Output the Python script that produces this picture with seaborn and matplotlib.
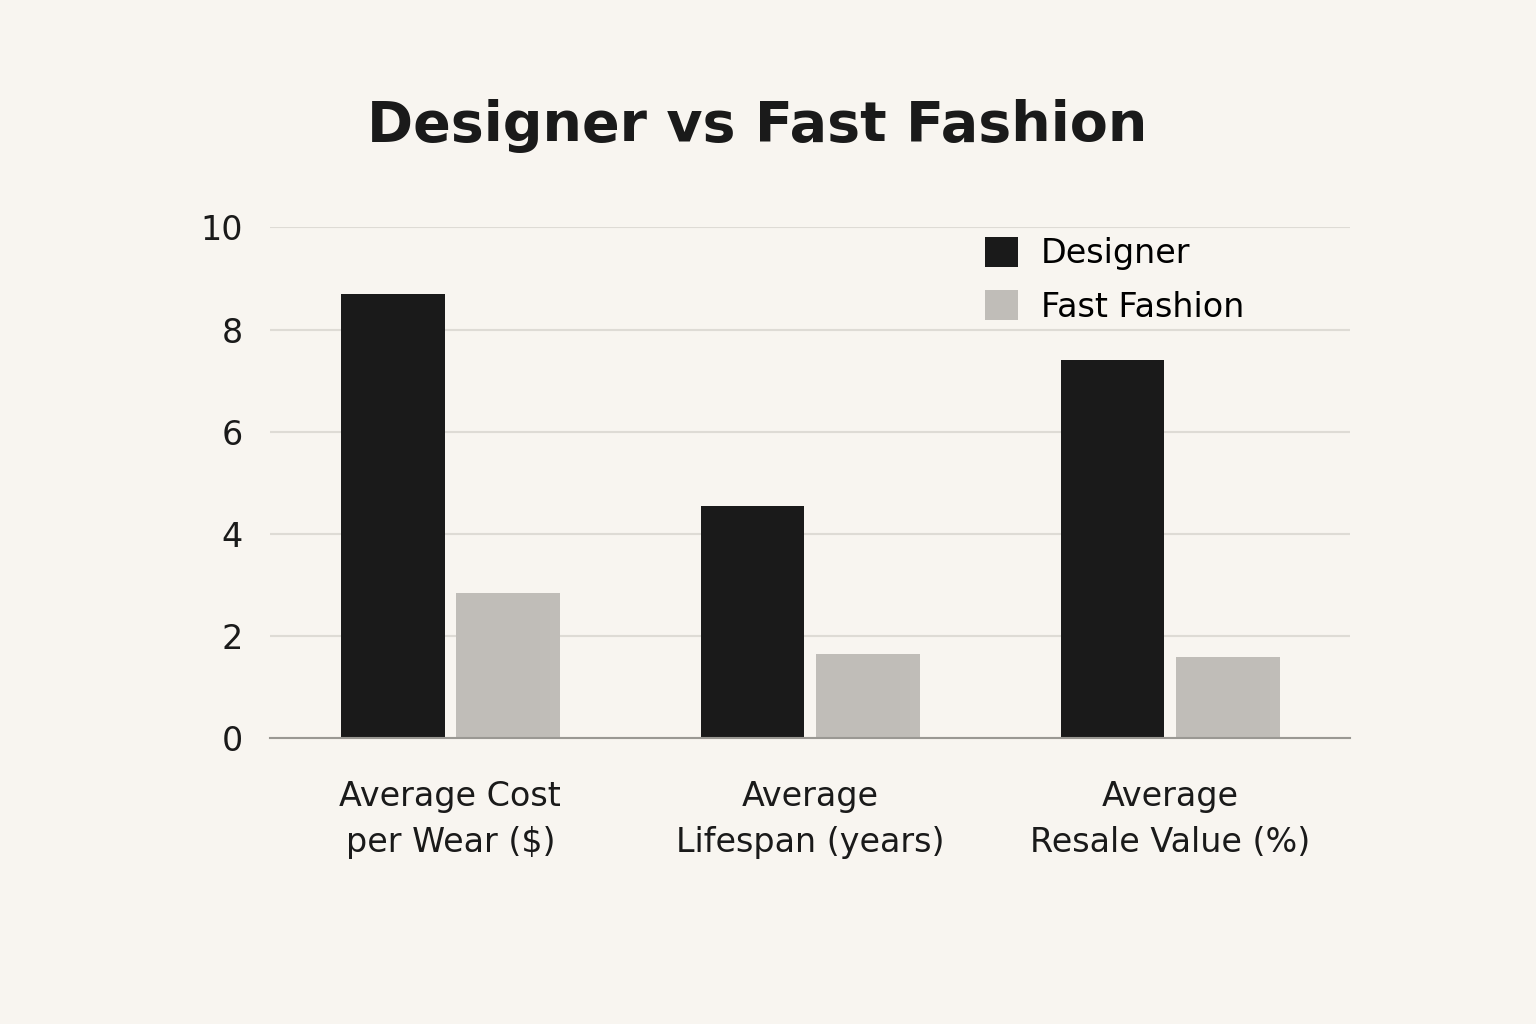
import matplotlib
matplotlib.use("Agg")
import matplotlib.pyplot as plt
import seaborn as sns
import pandas as pd

categories = ["Average Cost\nper Wear ($)", "Average\nLifespan (years)", "Average\nResale Value (%)"]
designer = [8.7, 4.55, 7.4]
fast_fashion = [2.85, 1.65, 1.6]
series = ["Designer", "Fast Fashion"]

df = pd.DataFrame({
    "category": categories * 2,
    "value": designer + fast_fashion,
    "series": [series[0]] * 3 + [series[1]] * 3,
})

bg = "#f8f5f0"
plt.rcParams["font.family"] = "DejaVu Sans"
fig = plt.figure(figsize=(15.36, 10.24), dpi=100, facecolor=bg)
ax = fig.add_axes([0.176, 0.279, 0.703, 0.499], facecolor=bg)

sns.barplot(data=df, x="category", y="value", hue="series",
            palette={"Designer": "#1a1a1a", "Fast Fashion": "#c0bdb8"},
            width=0.64, gap=0.1, ax=ax, saturation=1)

ax.set_ylim(0, 10)
ax.set_xlim(-0.5, 2.5)
ax.set_yticks([0, 2, 4, 6, 8, 10])
ax.yaxis.grid(True, color="#dedbd5", linewidth=1.5)
ax.set_axisbelow(True)
for s in ["top", "right", "left"]:
    ax.spines[s].set_visible(False)
ax.spines["bottom"].set_color("#9a9893")
ax.spines["bottom"].set_linewidth(1.5)
ax.tick_params(axis="both", length=0, labelsize=24, colors="#1a1a1a")
ax.tick_params(axis="x", pad=30)
ax.tick_params(axis="y", pad=20)
for t in ax.get_xticklabels():
    t.set_linespacing(1.5)
ax.set_xlabel("")
ax.set_ylabel("")

leg = ax.legend(loc="upper right", bbox_to_anchor=(0.93, 1.04), frameon=False,
                fontsize=24, handlelength=1.0, handleheight=1.0, labelspacing=0.6,
                handletextpad=0.7)

fig.text(0.493, 0.877, "Designer vs Fast Fashion", ha="center", va="center",
         fontsize=40, fontweight="bold", color="#1a1a1a")

fig.savefig("out.png", dpi=100, facecolor=bg)
